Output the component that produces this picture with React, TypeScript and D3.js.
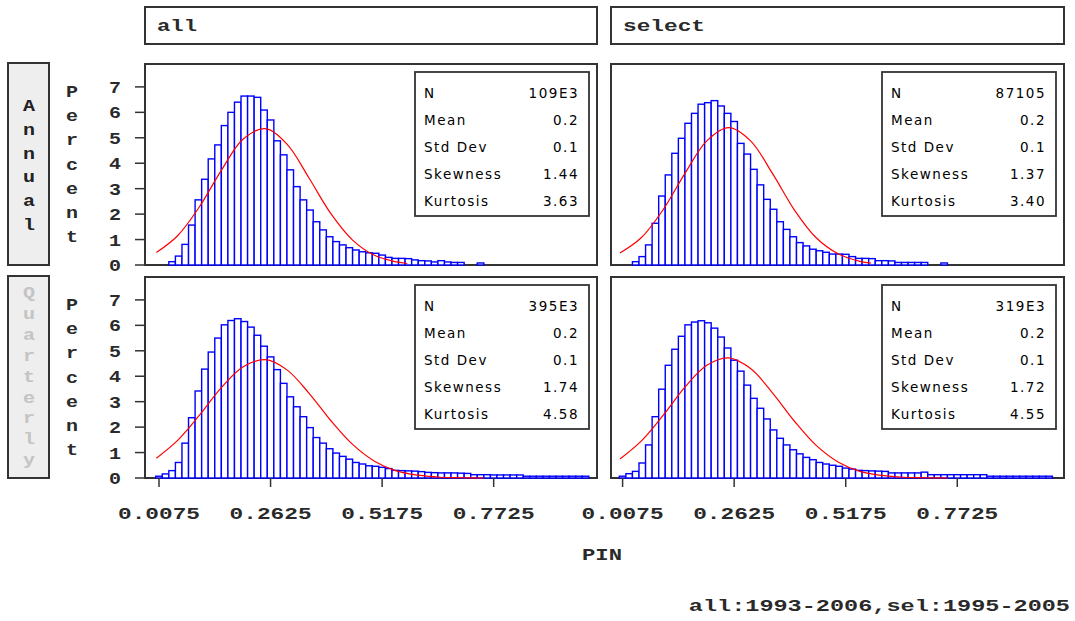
import React from "react";
import * as d3 from "d3";

// histogram bins: centre of first bin and bin width (PIN units)
const BIN_START = 0.0075;
const BIN_WIDTH = 0.015;

const colLabels = ["all", "select"];
const rowLabels = ["Annual", "Quarterly"];

// percent per bin, bin k centred at BIN_START + k * BIN_WIDTH
const annualAll = [0, 0, 0.13, 0.35, 0.81, 1.57, 2.56, 3.37, 4.17, 4.72, 5.48, 6.0, 6.4, 6.64, 6.64, 6.59, 6.09, 5.7, 4.88, 4.33, 3.74, 3.08, 2.56, 2.16, 1.7, 1.38, 1.11, 0.92, 0.79, 0.68, 0.59, 0.52, 0.48, 0.46, 0.39, 0.3, 0.26, 0.26, 0.25, 0.2, 0.17, 0.16, 0.12, 0.17, 0.12, 0.1, 0.1, 0, 0, 0.08];
const annualSel = [0, 0, 0.13, 0.33, 0.79, 1.64, 2.71, 3.54, 4.39, 4.98, 5.57, 5.96, 6.32, 6.38, 6.46, 6.25, 5.96, 5.64, 4.78, 4.36, 3.76, 3.15, 2.58, 2.19, 1.7, 1.4, 1.11, 0.88, 0.75, 0.62, 0.56, 0.5, 0.43, 0.43, 0.42, 0.33, 0.26, 0.26, 0.25, 0.17, 0.17, 0.16, 0.1, 0.1, 0.1, 0.1, 0.1, 0, 0, 0.08];
const quarterAll = [0.07, 0.16, 0.29, 0.61, 1.37, 2.37, 3.42, 4.28, 4.95, 5.5, 6.02, 6.19, 6.26, 6.15, 5.93, 5.61, 5.18, 4.76, 4.26, 3.72, 3.19, 2.8, 2.41, 1.98, 1.59, 1.37, 1.15, 0.98, 0.85, 0.74, 0.61, 0.55, 0.48, 0.46, 0.42, 0.37, 0.3, 0.29, 0.28, 0.27, 0.25, 0.22, 0.21, 0.2, 0.2, 0.2, 0.19, 0.18, 0.13, 0.13, 0.13, 0.12, 0.12, 0.12, 0.12, 0.12, 0.07, 0.07, 0.07, 0.07, 0.07, 0.07, 0.07, 0.07, 0.07, 0.07];
const quarterSel = [0.07, 0.17, 0.26, 0.59, 1.3, 2.41, 3.49, 4.43, 5.06, 5.57, 6.02, 6.13, 6.18, 6.1, 5.89, 5.54, 5.11, 4.63, 4.2, 3.65, 3.13, 2.74, 2.32, 1.89, 1.56, 1.3, 1.11, 0.95, 0.81, 0.72, 0.61, 0.55, 0.5, 0.46, 0.39, 0.35, 0.3, 0.29, 0.28, 0.27, 0.26, 0.2, 0.2, 0.2, 0.2, 0.2, 0.23, 0.13, 0.13, 0.13, 0.13, 0.13, 0.13, 0.13, 0.13, 0.13, 0.07, 0.07, 0.07, 0.07, 0.07, 0.07, 0.07, 0.07, 0.07, 0.07];

// fitted normal curve
const curveXAnnual = [0.0015, 0.05, 0.1, 0.15, 0.2, 0.25, 0.3, 0.35, 0.4, 0.45, 0.5, 0.55, 0.575];
const curveXQuarter = [0.0015, 0.05, 0.1, 0.15, 0.2, 0.25, 0.3, 0.35, 0.4, 0.45, 0.5, 0.55, 0.6, 0.65, 0.7, 0.75];
const curveAnnualAll = [0.49, 1.15, 2.29, 3.72, 4.95, 5.36, 4.75, 3.43, 2.03, 0.98, 0.38, 0.12, 0.06];
const curveAnnualSel = [0.47, 1.07, 2.17, 3.6, 4.88, 5.4, 4.88, 3.6, 2.17, 1.07, 0.44, 0.14, 0.07];
const curveQuarterAll = [0.78, 1.48, 2.47, 3.55, 4.37, 4.65, 4.25, 3.34, 2.26, 1.32, 0.66, 0.28, 0.11, 0.03, 0.01, 0];
const curveQuarterSel = [0.75, 1.45, 2.46, 3.57, 4.43, 4.72, 4.3, 3.35, 2.24, 1.28, 0.63, 0.26, 0.1, 0.03, 0.01, 0];

const statLabels = ["N", "Mean", "Std Dev", "Skewness", "Kurtosis"];
const statsAnnualAll = ["109E3", "0.2", "0.1", "1.44", "3.63"];
const statsAnnualSel = ["87105", "0.2", "0.1", "1.37", "3.40"];
const statsQuarterAll = ["395E3", "0.2", "0.1", "1.74", "4.58"];
const statsQuarterSel = ["319E3", "0.2", "0.1", "1.72", "4.55"];

const xTicks = [0.0075, 0.2625, 0.5175, 0.7725];
const yTicks = [0, 1, 2, 3, 4, 5, 6, 7];
const yLabel = "Percent";
const xLabel = "PIN";
const footnote = "all:1993-2006,sel:1995-2005";

const panels = [
  { row: 0, col: 0, bins: annualAll, cx: curveXAnnual, cy: curveAnnualAll, stats: statsAnnualAll },
  { row: 0, col: 1, bins: annualSel, cx: curveXAnnual, cy: curveAnnualSel, stats: statsAnnualSel },
  { row: 1, col: 0, bins: quarterAll, cx: curveXQuarter, cy: curveQuarterAll, stats: statsQuarterAll },
  { row: 1, col: 1, bins: quarterSel, cx: curveXQuarter, cy: curveQuarterSel, stats: statsQuarterSel },
];

const W = 1075;
const H = 621;
const cols = [
  { x0: 145, x1: 597, d0: -0.0245 },
  { x0: 611, x1: 1064, d0: -0.019 },
];
const rows = [
  { y0: 64, y1: 265 },
  { y0: 277, y1: 478 },
];
const MONO = "'Liberation Mono', 'DejaVu Sans Mono', monospace";
const SANS = "'DejaVu Sans', Verdana, sans-serif";
const PITCH = 14;

// stretched monospace text, like the wide SAS pixel font
const Mono = ({ x, y, text, anchor = "start", size = 17, fill = "#2a2a2a", pitch = PITCH }) => {
  const len = pitch * (text.length - 1) + 12;
  let sx = x;
  if (anchor === "middle") sx = x - len / 2;
  if (anchor === "end") sx = x - len;
  return (
    <text
      x={sx}
      y={y}
      fontFamily={MONO}
      fontWeight="bold"
      fontSize={size}
      fill={fill}
      textLength={len}
      lengthAdjust="spacingAndGlyphs"
    >
      {text}
    </text>
  );
};

const Panel = ({ p }) => {
  const c = cols[p.col];
  const r = rows[p.row];
  const x = d3.scaleLinear().domain([c.d0, c.d0 + (c.x1 - c.x0) / 437.5]).range([c.x0, c.x1]);
  const y = d3.scaleLinear().domain([0, 7.9]).range([r.y1, r.y0]);
  const line = d3
    .line()
    .x((d) => x(d[0]))
    .y((d) => y(d[1]))
    .curve(d3.curveCatmullRom.alpha(0.5));
  const pts = p.cx.map((v, i) => [v, p.cy[i]]);
  const bx0 = c.x1 - 182;
  const bx1 = c.x1 - 8;
  const by0 = r.y0 + 8;
  const by1 = r.y0 + 152;
  return (
    <g>
      <rect x={c.x0} y={r.y0} width={c.x1 - c.x0} height={r.y1 - r.y0} fill="#fff" stroke="#333" strokeWidth={2} />
      {p.bins.map((v, k) =>
        v > 0 ? (
          <rect
            key={k}
            x={x(BIN_START + k * BIN_WIDTH - BIN_WIDTH / 2)}
            y={y(v)}
            width={x(BIN_WIDTH) - x(0)}
            height={y(0) - y(v)}
            fill="#fff"
            stroke="#0000ff"
            strokeWidth={1.4}
          />
        ) : null
      )}
      <path d={line(pts)} fill="none" stroke="#ff0000" strokeWidth={1.2} />
      <rect x={bx0} y={by0} width={bx1 - bx0} height={by1 - by0} fill="#fff" stroke="#333" strokeWidth={1.8} />
      {statLabels.map((s, i) => (
        <g key={s}>
          <text x={bx0 + 9} y={by0 + 26 + i * 27} fontFamily={SANS} fontSize={13.5} letterSpacing={1.5} fill="#000">
            {s}
          </text>
          <text x={bx1 - 10} y={by0 + 26 + i * 27} fontFamily={SANS} fontSize={13.5} letterSpacing={1.5} textAnchor="end" fill="#000">
            {p.stats[i]}
          </text>
        </g>
      ))}
      {p.col === 0 &&
        yTicks.map((t) => (
          <g key={t}>
            <line x1={c.x0 - 10} x2={c.x0} y1={y(t)} y2={y(t)} stroke="#333" strokeWidth={1.5} />
            <Mono x={c.x0 - 24} y={y(t) + 6} text={String(t)} anchor="end" size={16} pitch={11} />
          </g>
        ))}
      {p.row === 1 &&
        xTicks.map((t) => (
          <g key={t}>
            <line x1={x(t)} x2={x(t)} y1={r.y1} y2={r.y1 + 9} stroke="#333" strokeWidth={1.5} />
            <Mono x={x(t)} y={519} text={String(t)} anchor="middle" />
          </g>
        ))}
    </g>
  );
};

export default function App() {
  return (
    <svg width={W} height={H} style={{ position: "absolute", left: 0, top: 0, background: "#fff" }}>
      {colLabels.map((s, i) => (
        <g key={s}>
          <rect x={cols[i].x0} y={7} width={cols[i].x1 - cols[i].x0} height={37} fill="#fff" stroke="#333" strokeWidth={2} />
          <Mono x={cols[i].x0 + 12} y={31} text={s} />
        </g>
      ))}
      {rowLabels.map((s, i) => {
        const r = rows[i];
        const step = i === 0 ? 23.8 : 20.9;
        const start = i === 0 ? 47 : 21;
        return (
          <g key={s}>
            <rect x={8} y={r.y0 - 1} width={41} height={r.y1 - r.y0 + 1} fill="#eeeeee" stroke="#333" strokeWidth={2} />
            {s.split("").map((ch, j) => (
              <Mono key={j} x={29} y={r.y0 + start + j * step} text={ch} anchor="middle" size={16} fill={i === 0 ? "#222" : "#c4c4c4"} />
            ))}
            {yLabel.split("").map((ch, j) => (
              <Mono key={"p" + j} x={72} y={r.y0 + 33 + j * 24.2} text={ch} anchor="middle" size={16} />
            ))}
          </g>
        );
      })}
      {panels.map((p, i) => (
        <Panel key={i} p={p} />
      ))}
      <Mono x={602} y={560} text={xLabel} anchor="middle" />
      <Mono x={1070} y={611} text={footnote} anchor="end" pitch={14.2} />
    </svg>
  );
}
